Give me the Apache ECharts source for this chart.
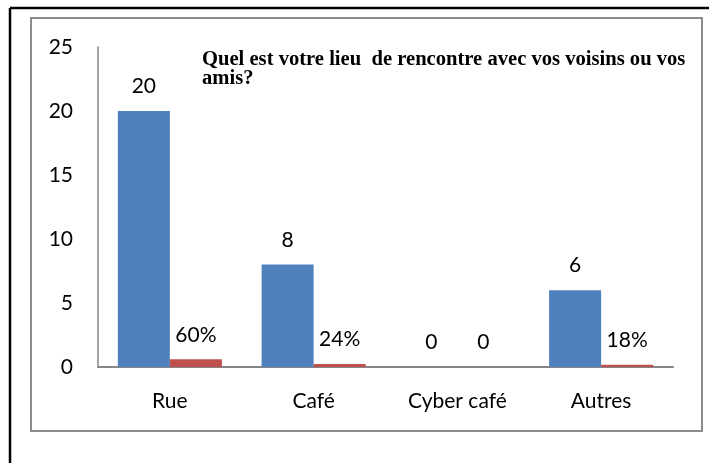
<!DOCTYPE html>
<html>
<head>
<meta charset="utf-8">
<script src="https://cdn.jsdelivr.net/npm/echarts@6/dist/echarts.min.js"></script>
<style>
  html, body { margin: 0; padding: 0; background: #ffffff; }
  #chart { width: 709px; height: 463px; }
</style>
</head>
<body>
<div id="chart"></div>
<script>
// Lieux de rencontre : effectifs et parts
const categories = ['Rue', 'Café', 'Cyber café', 'Autres'];
const effectifs = [20, 8, 0, 6];
const parts = [0.60, 0.24, 0, 0.18];
const yTicks = { min: 0, max: 25, interval: 5 };
const titre = 'Quel est votre lieu  de rencontre avec vos voisins ou vos\namis?';

const sansFont = 'Lato';
const chart = echarts.init(document.getElementById('chart'), null, { renderer: 'canvas' });

chart.setOption({
  animation: false,
  backgroundColor: '#ffffff',
  title: {
    text: titre,
    left: 197,
    top: 45,
    textStyle: {
      fontFamily: 'Liberation Serif',
      fontWeight: 'bold',
      fontSize: 20.6,
      lineHeight: 19,
      color: '#000000'
    }
  },
  graphic: [
    // cadre extérieur noir
    { type: 'line', shape: { x1: 10, y1: 8, x2: 709, y2: 8 }, style: { stroke: '#000000', lineWidth: 2.5 } },
    { type: 'line', shape: { x1: 10, y1: 8, x2: 10, y2: 463 }, style: { stroke: '#000000', lineWidth: 2.5 } },
    // cadre gris du graphique
    { type: 'rect', shape: { x: 31, y: 18, width: 671, height: 413 }, style: { fill: 'none', stroke: '#8c8c8c', lineWidth: 2 } }
  ],
  grid: { left: 98, right: 36, top: 47, bottom: 96, containLabel: false },
  xAxis: {
    type: 'category',
    data: categories,
    axisLine: { show: true, lineStyle: { color: '#868686', width: 2 } },
    axisTick: { show: false },
    axisLabel: { color: '#000000', fontFamily: sansFont, fontSize: 21, margin: 24 }
  },
  yAxis: {
    type: 'value',
    min: yTicks.min,
    max: yTicks.max,
    interval: yTicks.interval,
    axisLine: { show: true, lineStyle: { color: '#868686', width: 1.5 } },
    axisTick: { show: false },
    splitLine: { show: false },
    axisLabel: { color: '#000000', fontFamily: sansFont, fontSize: 21, margin: 25 }
  },
  series: [
    {
      type: 'bar',
      data: effectifs,
      barGap: '0%',
      barCategoryGap: '27.6%',
      itemStyle: { color: '#4F81BD' },
      label: {
        show: true, position: 'top', distance: 14,
        color: '#000000', fontFamily: sansFont, fontSize: 21
      }
    },
    {
      type: 'bar',
      data: parts,
      barGap: '0%',
      barCategoryGap: '27.6%',
      itemStyle: { color: '#C0504D' },
      label: {
        show: true, position: 'top', distance: 14,
        color: '#000000', fontFamily: sansFont, fontSize: 21,
        formatter: p => p.value === 0 ? '0' : Math.round(p.value * 100) + '%'
      }
    }
  ]
});
</script>
</body>
</html>
